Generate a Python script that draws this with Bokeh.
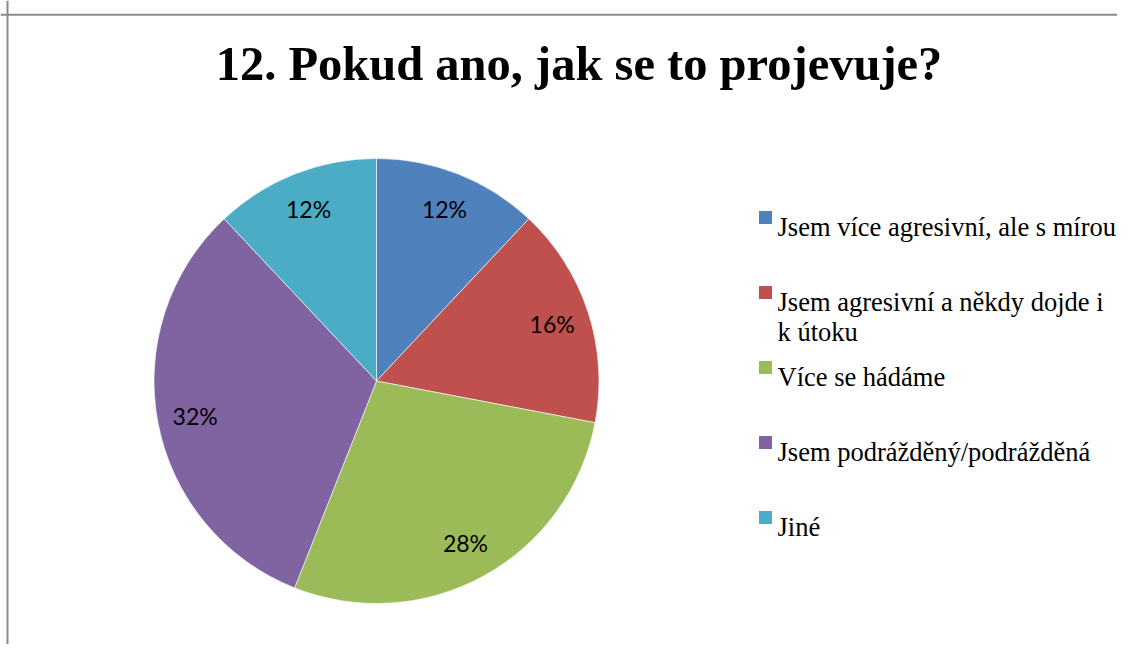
import math
from bokeh.plotting import figure
from bokeh.models import Range1d, Span
from bokeh.core.properties import value
from bokeh.embed import file_html
from bokeh.resources import INLINE

title = "12. Pokud ano, jak se to projevuje?"
categories = [
    "Jsem více agresivní, ale s mírou",
    "Jsem agresivní a někdy dojde i\nk útoku",
    "Více se hádáme",
    "Jsem podrážděný/podrážděná",
    "Jiné",
]
percent = [12, 16, 28, 32, 12]
colors = ["#4F81BD", "#C0504D", "#9BBB59", "#8064A2", "#4BACC6"]

W, H = 1117, 644
PAGE_H = 660

p = figure(width=W, height=H, output_backend="svg", toolbar_location=None,
           x_range=Range1d(0, W), y_range=Range1d(PAGE_H - H, PAGE_H),
           x_axis_location=None, y_axis_location=None, min_border=0,
           outline_line_color=None)
p.grid.visible = False
p.background_fill_color = "white"
p.border_fill_color = "white"

def Y(page_y):
    return PAGE_H - page_y

# chart border (top and left visible)
p.add_layout(Span(location=Y(14.3), dimension="width", line_color="#8a8a8a", line_width=2))
p.add_layout(Span(location=7, dimension="height", line_color="#8a8a8a", line_width=2))

# title
p.text(x=[578.5], y=[Y(62.5)], text=[title], text_font=value("Liberation Serif"),
       text_font_style="bold", text_font_size="48.5px", text_align="center",
       text_baseline="middle", text_color="black")

# pie
cx, cy, r = 376.0, Y(380.5), 222.5
total = float(sum(percent))
starts, ends, lx, ly, labels = [], [], [], [], []
cum = 0.0
for v in percent:
    a0 = math.pi / 2 - 2 * math.pi * cum / total
    cum += v
    a1 = math.pi / 2 - 2 * math.pi * cum / total
    starts.append(a0)
    ends.append(a1)
    mid = (a0 + a1) / 2
    lx.append(cx + 0.83 * r * math.cos(mid))
    ly.append(cy + 0.83 * r * math.sin(mid))
    labels.append(f"{v}%")

p.wedge(x=cx, y=cy, radius=r, start_angle=starts, end_angle=ends,
        direction="clock", fill_color=colors, line_color="white",
        line_width=1, line_alpha=0.6)

p.text(x=lx, y=ly, text=labels, text_font=value("Lato"), text_font_size="23px",
       text_align="center", text_baseline="middle", text_color="black")

# legend
sq_x, txt_x = 765, 777
row0, row_step, line_step = 217, 75, 30
for i, (cat, col) in enumerate(zip(categories, colors)):
    yc = row0 + i * row_step
    p.rect(x=[sq_x], y=[Y(yc)], width=13, height=13, fill_color=col, line_color=None)
    for j, line in enumerate(cat.split("\n")):
        p.text(x=[txt_x], y=[Y(yc + 9.5 + j * line_step)], text=[line],
               text_font=value("Liberation Serif"), text_font_size="26.5px",
               text_align="left", text_baseline="alphabetic", text_color="black")

open("out.html", "w").write(file_html(p, INLINE))
